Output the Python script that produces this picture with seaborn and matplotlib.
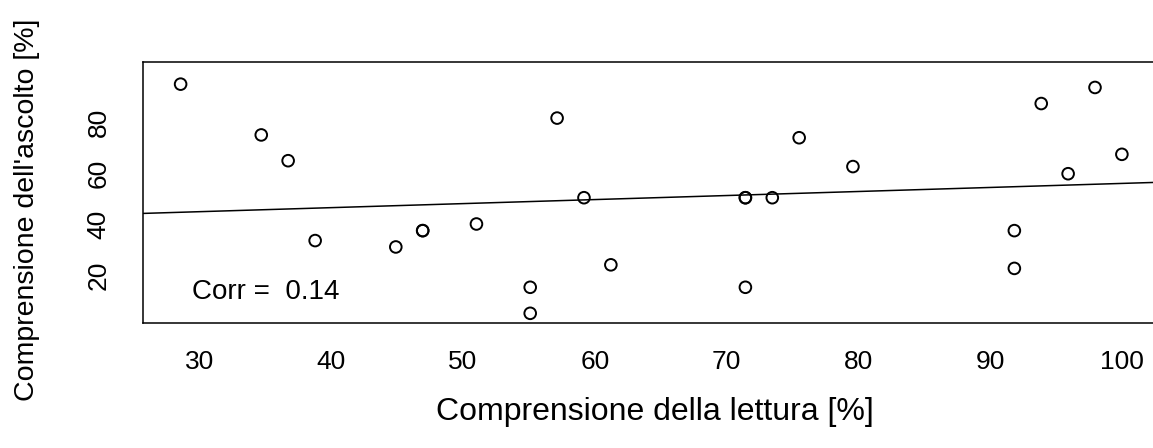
import numpy as np
import pandas as pd
import matplotlib
matplotlib.use("Agg")
import matplotlib.pyplot as plt
import seaborn as sns

# Reading comprehension vs listening comprehension scores (%)
lettura = [28.57, 34.69, 36.73, 38.78, 44.90, 46.94, 46.94, 51.02,
           55.10, 55.10, 57.14, 59.18, 61.22, 71.43, 71.43, 71.43,
           73.47, 75.51, 79.59, 91.84, 91.84, 93.88, 95.92, 97.96, 100.0]
ascolto = [94.8, 74.9, 64.8, 33.5, 31.0, 37.4, 37.4, 40.0,
           15.2, 5.0, 81.5, 50.3, 24.0, 50.3, 50.3, 15.2,
           50.3, 73.8, 62.5, 37.4, 22.6, 87.2, 59.7, 93.5, 67.3]
corr_value = 0.14

x_ticks = [30, 40, 50, 60, 70, 80, 90, 100]
y_ticks = [20, 40, 60, 80, 100]
y_tick_labels = ["20", "40", "60", "80", ""]

df = pd.DataFrame({"lettura": lettura, "ascolto": ascolto})

sns.set_theme(style="white")
plt.rcParams["font.family"] = ["Liberation Sans", "DejaVu Sans"]
plt.rcParams["text.color"] = "black"
plt.rcParams["axes.labelcolor"] = "black"
plt.rcParams["xtick.color"] = "black"
plt.rcParams["ytick.color"] = "black"

fig = plt.figure(figsize=(11.53, 4.48), dpi=100)
ax = fig.add_axes([0.1243, 0.279, 0.8814, 0.5833])

ax.set_xlim(25.74, 102.86)
ax.set_ylim(1.2, 103.6)

sns.scatterplot(data=df, x="lettura", y="ascolto", ax=ax, s=70,
                marker="o", facecolors="none", edgecolor="black",
                linewidth=1.4, zorder=3)
sns.regplot(data=df, x="lettura", y="ascolto", ax=ax, scatter=False,
            ci=None, truncate=False, color="black",
            line_kws={"linewidth": 1.1})

ax.set_xlim(25.74, 102.86)
ax.set_ylim(1.2, 103.6)

ax.set_xticks(x_ticks)
ax.set_xticklabels([str(t) for t in x_ticks], fontsize=19)
ax.set_yticks(y_ticks)
ax.set_yticklabels(y_tick_labels, fontsize=19, rotation=90, va="center")

ax.tick_params(axis="both", direction="out", length=9.5, width=1.1,
               color="black", labelcolor="black")
ax.tick_params(axis="x", pad=10)
ax.tick_params(axis="y", pad=14)

for side in ["left", "top", "bottom", "right"]:
    ax.spines[side].set_visible(True)
    ax.spines[side].set_color("black")
    ax.spines[side].set_linewidth(1.1)

ax.set_xlabel("Comprensione della lettura [%]", fontsize=23)
ax.xaxis.set_label_coords(0.503, -0.285)
ax.set_ylabel("Comprensione dell'ascolto [%]", fontsize=20.5)
ax.yaxis.set_label_coords(-0.1017, 0.432)

ax.text(35.0, 13.2, f"Corr =  {corr_value}", fontsize=20,
        ha="center", va="center", color="black")

ax.grid(False)
fig.savefig("out.png", dpi=100)
